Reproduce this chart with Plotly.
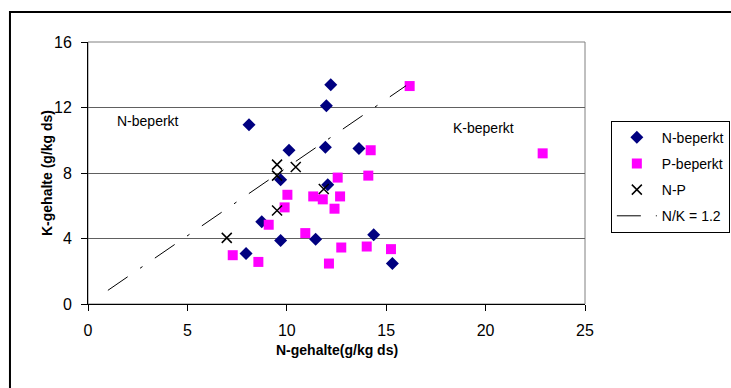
import plotly.graph_objects as go

# N-beperkt (diamonds)
n_lim_x = [12.21, 11.99, 8.10, 10.11, 11.94, 13.63, 9.69, 12.06, 8.74, 11.45, 9.69, 7.95, 14.37, 15.31]
n_lim_y = [13.39, 12.11, 10.94, 9.39, 9.57, 9.49, 7.59, 7.29, 5.02, 3.96, 3.88, 3.08, 4.23, 2.47]

# P-beperkt (squares)
p_lim_x = [16.18, 22.87, 14.22, 12.56, 14.10, 10.03, 11.33, 11.81, 12.68, 12.40, 9.89, 9.09, 10.93, 7.28, 8.57, 12.12, 12.74, 14.02, 15.24]
p_lim_y = [13.31, 9.20, 9.39, 7.72, 7.84, 6.67, 6.57, 6.39, 6.57, 5.82, 5.90, 4.84, 4.33, 2.98, 2.57, 2.47, 3.45, 3.51, 3.35]

# N-P (crosses)
np_x = [9.51, 10.45, 9.51, 11.86, 9.51, 6.98]
np_y = [8.51, 8.37, 7.84, 7.02, 5.71, 4.04]

# N/K = 1.2 line
line_x = [1, 16]
line_y = [1 / 1.2, 16 / 1.2]

x_ticks = [0, 5, 10, 15, 20, 25]
y_ticks = [0, 4, 8, 12, 16]

FONT = "Arial, Liberation Sans, sans-serif"

fig = go.Figure()
fig.add_trace(go.Scatter(x=n_lim_x, y=n_lim_y, mode="markers", name="N-beperkt",
                         legendgroup="a",
                         marker=dict(symbol="diamond", size=10, color="#000080")))
fig.add_trace(go.Scatter(x=p_lim_x, y=p_lim_y, mode="markers", name="P-beperkt",
                         legendgroup="b",
                         marker=dict(symbol="square", size=10, color="#FF00FF")))
fig.add_trace(go.Scatter(x=np_x, y=np_y, mode="markers", name="N-P",
                         legendgroup="c",
                         marker=dict(symbol="x-thin", size=10, color="black",
                                     line=dict(width=1.5, color="black"))))
fig.add_trace(go.Scatter(x=line_x, y=line_y, mode="lines", name="N/K = 1.2",
                         legendgroup="d",
                         line=dict(color="black", width=1, dash="24px,15px,3px,15px")))

fig.update_layout(
    width=731, height=388,
    margin=dict(l=88, r=146, t=42, b=84, autoexpand=False),
    paper_bgcolor="white", plot_bgcolor="white",
    font=dict(family=FONT, size=14, color="black"),
    showlegend=True,
    legend=dict(x=1.052, y=0.70, xanchor="left", yanchor="top",
                bordercolor="black", borderwidth=1, bgcolor="white",
                font=dict(size=14, family=FONT), traceorder="grouped",
                tracegroupgap=5, itemwidth=40),
    xaxis=dict(range=[0, 25], tickvals=x_ticks, showgrid=False, zeroline=False,
               showline=True, linecolor="black", linewidth=1,
               ticks="outside", ticklen=6, tickcolor="black",
               tickfont=dict(size=16, family=FONT), ticklabelstandoff=6),
    yaxis=dict(range=[0, 16], tickvals=y_ticks, showgrid=True, gridcolor="#606060",
               gridwidth=1, zeroline=False,
               showline=True, linecolor="black", linewidth=1,
               ticks="outside", ticklen=6, tickcolor="black",
               tickfont=dict(size=16, family=FONT), ticklabelstandoff=6),
    shapes=[
        dict(type="rect", xref="paper", yref="paper", x0=0, x1=1, y0=0, y1=1,
             line=dict(color="#808080", width=1), layer="below"),
        dict(type="rect", xref="paper", yref="paper", x0=-0.157, x1=2.0, y0=-2.0, y1=1.1145,
             line=dict(color="black", width=2), layer="below"),
    ],
    annotations=[
        dict(text="<b>K-gehalte (g/kg ds)</b>", xref="paper", yref="paper",
             x=-0.1026, y=0.5, textangle=-90, showarrow=False,
             font=dict(size=14, family=FONT)),
        dict(text="<b>N-gehalte(g/kg ds)</b>", xref="paper", yref="paper",
             x=0.5, y=-0.2137, showarrow=False, font=dict(size=14, family=FONT)),
        dict(text="N-beperkt", x=3.02, y=11.15, xref="x", yref="y", showarrow=False,
             font=dict(size=14, family=FONT)),
        dict(text="K-beperkt", x=19.87, y=10.72, xref="x", yref="y", showarrow=False,
             font=dict(size=14, family=FONT)),
    ],
)

fig.write_html("out.html")
